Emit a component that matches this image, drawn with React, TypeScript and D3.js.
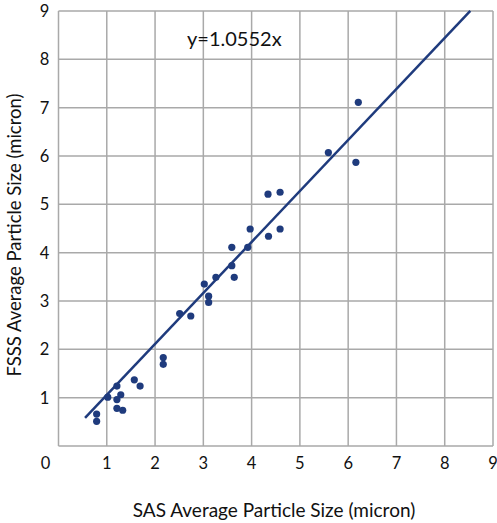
import React from 'react';
import * as d3 from 'd3';

// SAS (x) vs FSSS (y) average particle size, microns
const sasValues = [
  0.79, 0.79, 1.21, 1.02, 1.29, 1.21, 1.21, 1.33, 1.57, 1.69, 2.17, 2.17,
  2.51, 2.74, 3.02, 3.11, 3.11, 3.26, 3.59, 3.64, 3.59, 3.92, 3.97, 4.35, 4.59,
  4.34, 4.59, 5.59, 6.16, 6.21,
];
const fsssValues = [
  0.66, 0.51, 1.24, 1.01, 1.06, 0.96, 0.78, 0.74, 1.37, 1.24, 1.83, 1.69,
  2.74, 2.69, 3.35, 3.1, 2.97, 3.49, 3.73, 3.49, 4.11, 4.11, 4.49, 4.34, 4.49,
  5.21, 5.25, 6.07, 5.87, 7.11,
];
const slope = 1.0552;
const fitRange = [0.55, 8.53];
const ticks = [0, 1, 2, 3, 4, 5, 6, 7, 8, 9];
const equationLabel = 'y=1.0552x';
const xTitle = 'SAS Average Particle Size (micron)';
const yTitle = 'FSSS Average Particle Size (micron)';

const W = 497;
const H = 523;
const margin = { left: 58.5, right: 4, top: 11, bottom: 77 };
const font = 'Lato, "Open Sans", sans-serif';
const navy = '#1f3b7d';
const grid = '#a9a9a9';

export default function App() {
  const x = d3.scaleLinear().domain([0, 9]).range([margin.left, W - margin.right]);
  const y = d3.scaleLinear().domain([0, 9]).range([H - margin.bottom, margin.top]);
  const pts = sasValues.map((v, i) => [v, fsssValues[i]] as [number, number]);
  const fit = d3
    .line<number>()
    .x((d) => x(d))
    .y((d) => y(d * slope));

  return (
    <svg
      width={W}
      height={H}
      style={{ position: 'absolute', left: 0, top: 0, background: '#fff' }}
    >
      {/* grid */}
      {ticks.map((t) => (
        <line key={'gx' + t} x1={x(t)} x2={x(t)} y1={y(0)} y2={y(9)} stroke={grid} strokeWidth={1.5} />
      ))}
      {ticks.map((t) => (
        <line key={'gy' + t} x1={x(0)} x2={x(9)} y1={y(t)} y2={y(t)} stroke={grid} strokeWidth={1.5} />
      ))}

      {/* x tick labels */}
      {ticks.map((t) => (
        <text
          key={'tx' + t}
          x={t === 0 ? x(0) - 13 : x(t)}
          y={y(0) + 23}
          textAnchor="middle"
          fontFamily={font}
          fontSize={16.5}
          fill="#111"
        >
          {t}
        </text>
      ))}
      {/* y tick labels */}
      {ticks.slice(1).map((t) => (
        <text
          key={'ty' + t}
          x={x(0) - 14}
          y={y(t) + 6}
          textAnchor="middle"
          fontFamily={font}
          fontSize={16.5}
          fill="#111"
        >
          {t}
        </text>
      ))}

      {/* fitted line */}
      <path d={fit(fitRange) || ''} fill="none" stroke={navy} strokeWidth={2.5} />

      {/* points */}
      {pts.map((p, i) => (
        <circle key={i} cx={x(p[0])} cy={y(p[1])} r={3.6} fill={navy} />
      ))}

      <text x={187} y={46} fontFamily={font} fontSize={20} fill="#111">
        {equationLabel}
      </text>

      <text
        x={274}
        y={517}
        textAnchor="middle"
        fontFamily={font}
        fontSize={19}
        fill="#111"
      >
        {xTitle}
      </text>
      <text
        transform={`translate(21,235) rotate(-90)`}
        textAnchor="middle"
        fontFamily={font}
        fontSize={18.5}
        fill="#111"
      >
        {yTitle}
      </text>
    </svg>
  );
}
